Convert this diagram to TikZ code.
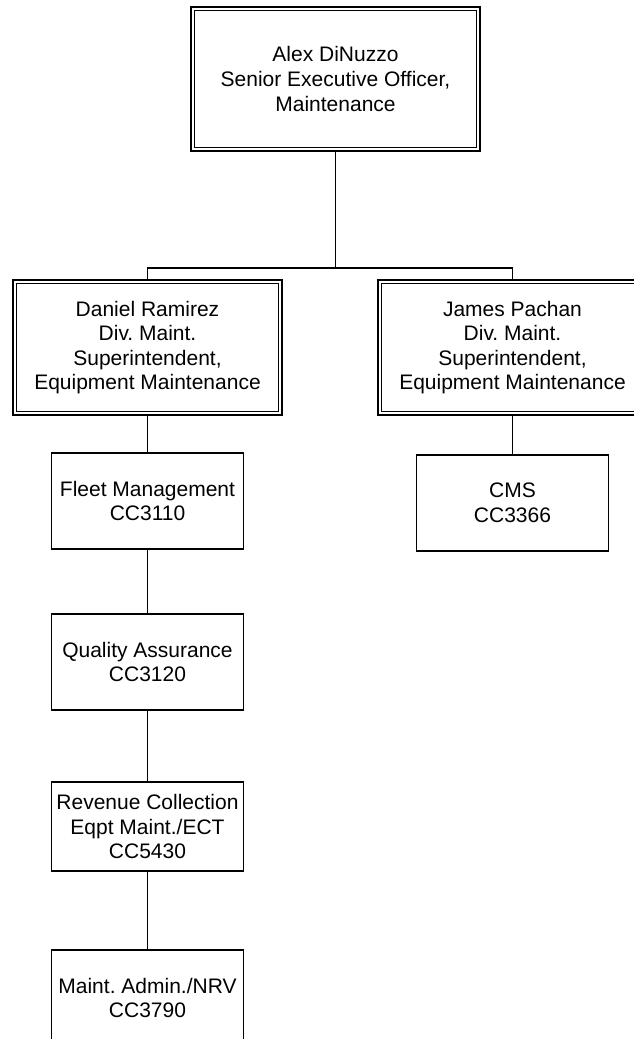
\documentclass[tikz,border=0pt]{standalone}
\usepackage{fontspec}
\setmainfont{Liberation Sans}
\usepackage{tikz}
\usetikzlibrary{positioning}
\definecolor{linegray}{RGB}{0,0,0}
\frenchspacing

\tikzset{
  headbox/.style={draw=linegray, line width=1.5pt, inner sep=0pt, align=center,
    minimum width=201.75pt, minimum height=101.25pt},
  unitbox/.style={draw=linegray, line width=1pt, inner sep=0pt, align=center,
    minimum width=144pt, minimum height=72pt},
  link/.style={draw=linegray, line width=1pt}
}

\begin{document}
\begin{tikzpicture}[x=0.75pt, y=-0.75pt, font=\fontsize{15.75}{18.4}\selectfont]
\useasboundingbox (0,0) rectangle (634,1039);
\clip (0,0) rectangle (634,1039);

\node[headbox, minimum width=216.75pt, minimum height=108pt] (top) at (335.5,79)
  {Alex DiNuzzo\\Senior Executive Officer,\\Maintenance};
\node[headbox] (ramirez) at (147.5,347.5)
  {Daniel Ramirez\\Div. Maint.\\Superintendent,\\Equipment Maintenance};
\node[headbox] (pachan) at (512.5,347.5)
  {James Pachan\\Div. Maint.\\Superintendent,\\Equipment Maintenance};
% inner frame of the double boxes
\foreach \n in {top,ramirez,pachan}
  \draw[line width=0.9pt] ([shift={(4.5,4.5)}]\n.north west) rectangle ([shift={(-4.5,-4.5)}]\n.south east);

\node[unitbox] (fleet) at (147.5,501) {Fleet Management\\CC3110};
\node[unitbox] (quality) at (147.5,662) {Quality Assurance\\CC3120};
\node[unitbox, minimum height=66.75pt] (revenue) at (147.5,826.5)
  {Revenue Collection\\Eqpt Maint./ECT\\CC5430};
\node[unitbox] (admin) at (147.5,998) {Maint. Admin./NRV\\CC3790};
\node[unitbox] (cms) at (512.5,503) {CMS\\CC3366};

\coordinate (bar) at (335.5,268);
\draw[link] (top.south) -- (bar);
\draw[link] (ramirez.north) |- (bar) -| (pachan.north);
\draw[link] (ramirez) -- (fleet);
\draw[link] (fleet) -- (quality);
\draw[link] (quality) -- (revenue);
\draw[link] (revenue) -- (admin);
\draw[link] (pachan) -- (cms);
\end{tikzpicture}
\end{document}
